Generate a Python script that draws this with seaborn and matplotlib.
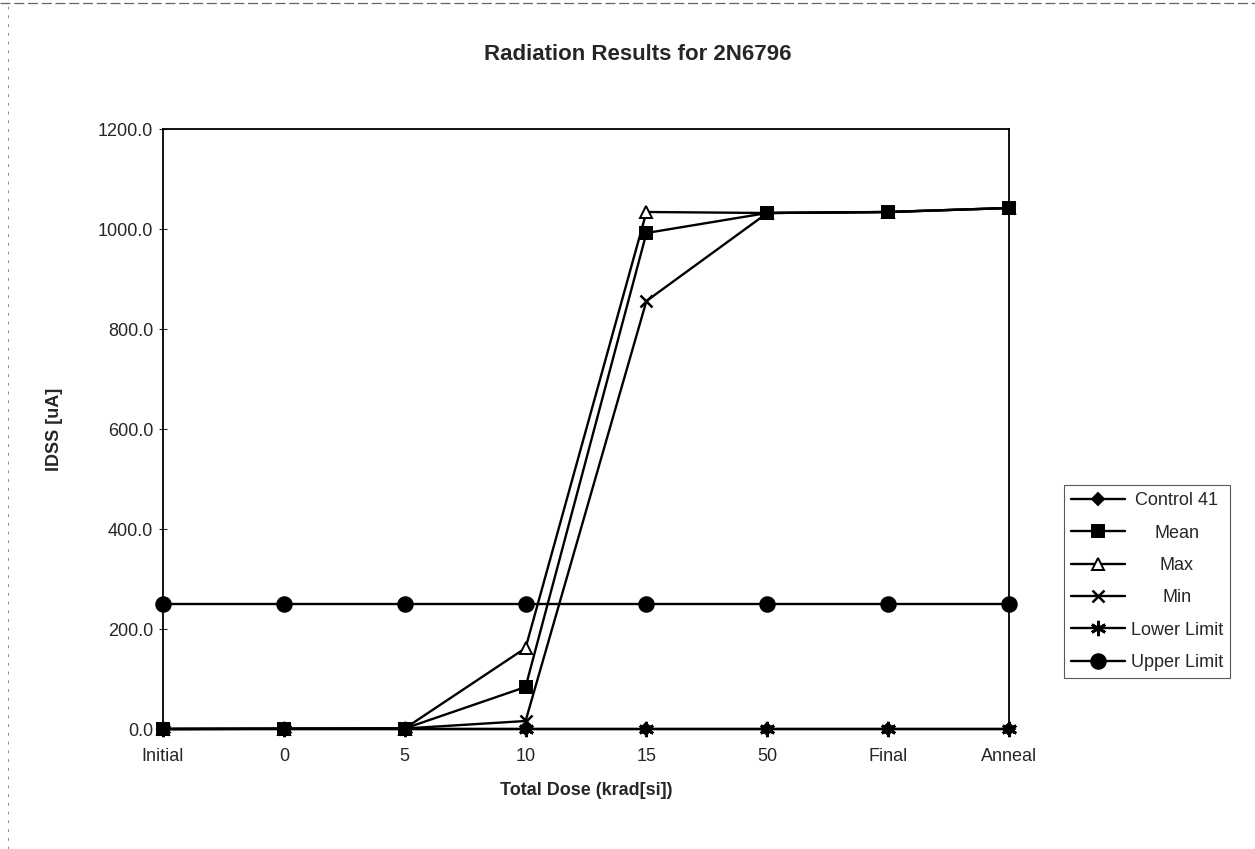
import matplotlib

matplotlib.use("Agg")
import matplotlib.pyplot as plt
import numpy as np
import pandas as pd
import seaborn as sns
from matplotlib.lines import Line2D
from matplotlib.ticker import FormatStrFormatter

# categories on the x axis
doses = ["Initial", "0", "5", "10", "15", "50", "Final", "Anneal"]

# IDSS [uA] per series
control_41 = [0.0, 0.0, 0.0, 0.0, 0.0, 0.0, 0.0, 0.0]
mean_vals = [0.0, 0.5, 1.0, 84.0, 992.0, 1032.0, 1034.0, 1042.0]
max_vals = [0.0, 0.5, 1.0, 162.0, 1034.0, 1032.0, 1034.0, 1042.0]
min_vals = [0.0, 0.5, 1.0, 16.0, 856.0, 1032.0, 1034.0, 1042.0]
lower_limit = [0.0, 0.0, 0.0, 0.0, 0.0, 0.0, 0.0, 0.0]
upper_limit = [250.0, 250.0, 250.0, 250.0, 250.0, 250.0, 250.0, 250.0]

series = {
    "Control 41": control_41,
    "Mean": mean_vals,
    "Max": max_vals,
    "Min": min_vals,
    "Lower Limit": lower_limit,
    "Upper Limit": upper_limit,
}

# marker style per series (Excel-like)
styles = {
    "Control 41": dict(marker="D", markersize=6.5, markerfacecolor="black", zorder=2.8),
    "Mean": dict(marker="s", markersize=8.5, markerfacecolor="black", zorder=3.4),
    "Max": dict(marker="^", markersize=8.5, markerfacecolor="white", zorder=3.2),
    "Min": dict(marker="x", markersize=9, markeredgewidth=1.8, zorder=3.3),
    "Lower Limit": dict(marker=(6, 2, 0), markersize=11, markeredgewidth=2.0, zorder=3.0),
    "Upper Limit": dict(marker="o", markersize=10.5, markerfacecolor="black", zorder=3.0),
}

sns.set_style("white")
plt.rcParams["font.family"] = ["Liberation Sans", "DejaVu Sans"]

fig = plt.figure(figsize=(12.55, 8.49), dpi=100)
ax = fig.add_axes([163 / 1255, 1 - 729 / 849, (1009 - 163) / 1255, 600 / 849])

x = np.arange(len(doses))
for name, vals in series.items():
    df = pd.DataFrame({"dose": x, "value": vals})
    st = dict(styles[name])
    st.setdefault("markeredgewidth", 1.4)
    sns.lineplot(
        data=df, x="dose", y="value", ax=ax, color="black", linewidth=1.7,
        markeredgecolor="black", label=name, clip_on=False, **st,
    )

ax.set_xlim(0, len(doses) - 1)
ax.set_ylim(0, 1200)
ax.set_xticks(x)
ax.set_xticklabels(doses)
ax.set_yticks(np.arange(0, 1201, 200))
ax.yaxis.set_major_formatter(FormatStrFormatter("%.1f"))
ax.tick_params(axis="x", length=0, pad=14, labelsize=13)
ax.tick_params(axis="y", direction="inout", length=6, width=0.8, pad=4, labelsize=13, left=True)
for sp in ax.spines.values():
    sp.set_color("black")
    sp.set_linewidth(1.3)

ax.set_xlabel("Total Dose (krad[si])", fontsize=13, fontweight="bold")
ax.set_ylabel("IDSS [uA]", fontsize=13, fontweight="bold")
ax.xaxis.set_label_coords(0.5, -0.088)
ax.yaxis.set_label_coords(-0.118, 0.5)

fig.text(0.508, 1 - 54 / 849, "Radiation Results for 2N6796",
         ha="center", va="center", fontsize=16, fontweight="bold")

handles, labels = ax.get_legend_handles_labels()
ax.get_legend().remove()
leg = fig.legend(
    handles, labels, loc="upper left", bbox_to_anchor=(1064 / 1255, 1 - 485 / 849),
    fontsize=13, frameon=True, fancybox=False, edgecolor="0.35", framealpha=1,
    handlelength=3.0, handletextpad=0.3, labelspacing=0.85, borderpad=0.4,
    borderaxespad=0,
)
leg.get_frame().set_linewidth(0.8)

# centre the legend labels like the Excel legend does
fig.canvas.draw()
widths = [t.get_window_extent().width for t in leg.get_texts()]
maxw = max(widths)
for t, w in zip(leg.get_texts(), widths):
    t.set_position(((maxw - w) / 2, 0))

# dashed outer chart border (top and left edges, as in the scan)
fig.add_artist(Line2D([0, 1], [0.997, 0.997], transform=fig.transFigure,
                      color="0.4", lw=0.9, ls=(0, (8, 3))))
fig.add_artist(Line2D([0.006, 0.006], [0, 1], transform=fig.transFigure,
                      color="0.55", lw=0.7, ls=(0, (3, 6))))

fig.savefig("out.png", dpi=100)
plt.close(fig)
